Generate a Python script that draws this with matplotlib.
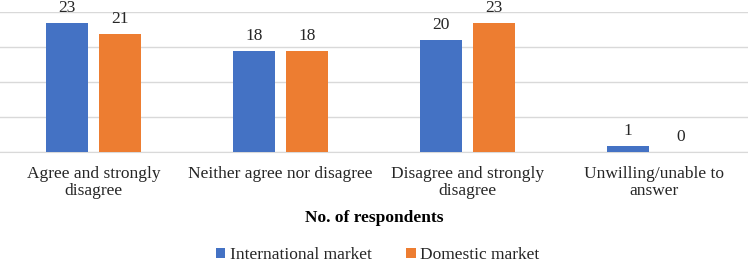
import numpy as np
import matplotlib as mpl
mpl.use('Agg')
import matplotlib.pyplot as plt

# Data
categories = ['Agree and strongly\ndisagree', 'Neither agree nor disagree',
              'Disagree and strongly\ndisagree', 'Unwilling/unable to\nanswer']
international = [23, 18, 20, 1]
domestic = [21, 18, 23, 0]
series_names = ['International market', 'Domestic market']

plt.rcParams['font.family'] = ['Liberation Serif', 'DejaVu Serif']

fig = plt.figure(figsize=(7.48, 2.67), dpi=100)
ax = fig.add_axes([0.0, 0.432, 1.0, 0.524])

x = np.arange(len(categories))
w = 0.225
off = 0.142
b1 = ax.bar(x - off, international, w, color='#4472C4', label=series_names[0], zorder=3)
b2 = ax.bar(x + off, domestic, w, color='#ED7D31', label=series_names[1], zorder=3)

for bars in (b1, b2):
    for r in bars:
        ax.annotate(str(int(r.get_height())), (r.get_x() + r.get_width() / 2, r.get_height()),
                    xytext=(0, 5), textcoords='offset points', ha='center', va='bottom',
                    fontsize=12.5, color='#262626', annotation_clip=False)

ax.set_xlim(-0.5, 3.5)
ax.set_ylim(0, 25)
ax.set_yticks([0, 6.25, 12.5, 18.75, 25])
ax.yaxis.grid(True, color='#d9d9d9', linewidth=1, zorder=0)
ax.tick_params(axis='y', left=False, labelleft=False)
ax.tick_params(axis='x', length=0, pad=10, labelsize=12.5, colors='#262626')
ax.set_xticks(x)
ax.set_xticklabels(categories, linespacing=1.1)
for s in ['top', 'right', 'left']:
    ax.spines[s].set_visible(False)
ax.spines['bottom'].set_color('#d9d9d9')
ax.set_xlabel('No. of respondents', fontsize=12.5, fontweight='bold', labelpad=8, color='#000000')

fig.legend(handles=[b1, b2], loc='center', bbox_to_anchor=(0.505, 0.045), ncol=2,
           frameon=False, fontsize=12.5, handlelength=0.55, handleheight=0.55,
           handletextpad=0.25, columnspacing=2.0, labelcolor='#262626')

plt.savefig('out.png', dpi=100)
plt.close()
